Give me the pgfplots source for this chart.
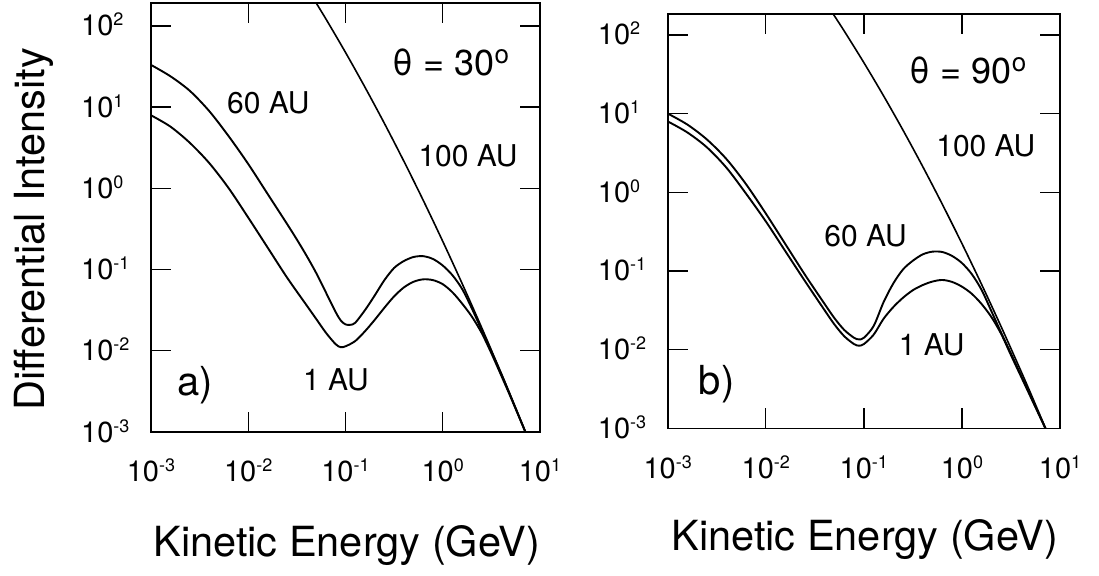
\documentclass[border=0pt]{standalone}
\usepackage{fontspec}
\setmainfont{TeX Gyre Heros}
\usepackage{pgfplots}
\pgfplotsset{compat=1.18}

% power-of-ten tick labels: "10" with a small raised exponent, in the text font
\newcommand\tickfont{\fontsize{29}{29}\selectfont}
\newcommand\pw[1]{\mbox{\tickfont 10\raisebox{10pt}{\fontsize{18}{18}\selectfont #1}}}
\newcommand\dego{\raisebox{12pt}{\fontsize{26}{26}\selectfont o}}
\newcommand\labfont{\fontsize{41.5}{42}\selectfont}
\newcommand\annfont{\fontsize{30}{30}\selectfont}

\tikzset{
  ann/.style={anchor=base, inner sep=0pt, font=\annfont},
  big/.style={anchor=base, inner sep=0pt, font=\fontsize{36}{36}\selectfont},
  tag/.style={anchor=base, inner sep=0pt, font=\fontsize{40}{40}\selectfont},
}

\pgfplotsset{
  panel/.style={
    scale only axis, anchor=south west,
    xmin=1e-3, xmax=10, ymin=1e-3,
    xtick={1e-3,1e-2,1e-1,1,10},
    xticklabels={\pw{-3},\pw{-2},\pw{-1},\pw{0},\pw{1}},
    ytick={1e-3,1e-2,1e-1,1,10,100},
    yticklabels={\pw{-3},\pw{-2},\pw{-1},\pw{0},\pw{1},\pw{2}},
    xminorticks=false, yminorticks=false,
    xtick pos=both, ytick pos=both, tick align=inside,
    major tick length=20pt,
    axis line style={line width=1.6pt, black},
    every tick/.style={line width=1.4pt, black},
    tick label style={inner sep=0pt, font=\tickfont},
    yticklabel style={anchor=base west, xshift=-70pt, yshift=-10pt},
    label style={font=\labfont, inner sep=0pt},
    xlabel={Kinetic Energy (GeV)},
  },
  curve/.style={black, line width=1.9pt, smooth},
  lis/.style={black, line width=1.6pt, smooth},
}

\begin{document}
\begin{tikzpicture}
\useasboundingbox (0,0) rectangle (1099pt,575pt);

% ---------------- a) theta = 30 deg ----------------
\begin{loglogaxis}[panel,
  at={(151pt,143pt)}, width=389pt, height=428.7pt, ymax=190,
  xticklabel style={anchor=base, yshift=-49pt},
  ylabel={Differential Intensity},
  xlabel style={at={(axis description cs:0.504,-0.291)}, anchor=base},
  ylabel style={at={(axis description cs:-0.275,0.4735)}, anchor=base},
]
% 100 AU
\addplot[lis] table {
0.04467 238.2
0.0631  121.1
0.1     47.21
0.1585  17.62
0.2512  6.310
0.3981  2.163
0.631   0.7096
1.0     0.2228
1.585   0.06699
2.512   0.01932
3.981   0.005333
5.012   0.002754
7.079   0.001
7.943   0.000713
};
% 60 AU
\addplot[curve] table {
0.001    33.11
0.001585 23.99
0.002512 15.85
0.003981 8.913
0.00631  4.365
0.01     1.995
0.01585  0.8511
0.02512  0.3631
0.03162  0.2344
0.03981  0.1479
0.05012  0.09016
0.0631   0.05188
0.07943  0.02985
0.08913  0.02371
0.1      0.02113
0.1122   0.02089
0.1259   0.02213
0.1585   0.03162
0.1995   0.04786
0.2512   0.07413
0.3162   0.1047
0.3981   0.1274
0.5012   0.1429
0.631    0.1462
0.7943   0.1349
1.0      0.1122
1.259    0.08511
1.585    0.05754
1.995    0.03311
2.512    0.01799
3.162    0.009772
3.981    0.005248
5.012    0.002723
7.079    0.001
7.943    0.000708
};
% 1 AU
\addplot[curve] table {
0.001    7.943
0.001585 5.754
0.002512 3.631
0.003981 2.042
0.00631  1.0
0.01     0.4365
0.01585  0.1862
0.02512  0.07943
0.03981  0.03631
0.05012  0.02455
0.0631   0.0166
0.07943  0.01202
0.08913  0.01109
0.1      0.01135
0.1259   0.01318
0.1585   0.01738
0.1995   0.02399
0.2512   0.03388
0.3162   0.04677
0.3981   0.06026
0.5012   0.07079
0.631    0.07586
0.7943   0.07413
1.0      0.06607
1.259    0.05248
1.585    0.03802
1.995    0.0263
2.512    0.0166
3.162    0.009333
3.981    0.005012
5.012    0.002661
7.079    0.001
7.943    0.000708
};
\node[big] at (axis description cs:0.771,0.832) {θ = 30\dego};
\node[ann] at (axis description cs:0.3016,0.7421) {60 AU};
\node[ann] at (axis description cs:0.815,0.6184) {100 AU};
\node[ann] at (axis description cs:0.4756,0.0979) {1 AU};
\node[tag] at (axis description cs:0.1131,0.0862) {a)};
\end{loglogaxis}

% ---------------- b) theta = 90 deg ----------------
\begin{loglogaxis}[panel,
  at={(667.7pt,146.7pt)}, width=392.3pt, height=414.3pt, ymax=184,
  xticklabel style={anchor=base, yshift=-50pt},
  xlabel style={at={(axis description cs:0.503,-0.294)}, anchor=base},
]
% 100 AU
\addplot[lis] table {
0.04467 216.8
0.0631  111.7
0.1     44.36
0.1585  16.87
0.2512  6.124
0.3981  2.123
0.631   0.7031
1.0     0.2228
1.585   0.06761
2.512   0.01954
3.981   0.005408
5.012   0.002799
7.079   0.001019
7.943   0.000723
};
% 60 AU
\addplot[curve] table {
0.001    10.0
0.001585 7.244
0.002512 4.677
0.003981 2.630
0.00631  1.259
0.01     0.537
0.01585  0.2188
0.02512  0.08913
0.03981  0.03802
0.05012  0.02512
0.0631   0.01778
0.07943  0.01413
0.08913  0.01349
0.1      0.01413
0.1259   0.01995
0.1585   0.03981
0.1995   0.06918
0.2512   0.1047
0.3162   0.1349
0.3981   0.1622
0.5012   0.1758
0.631    0.1738
0.7943   0.1549
1.0      0.1259
1.259    0.0912
1.585    0.05754
1.995    0.0309
2.512    0.01641
3.162    0.008913
3.981    0.004786
5.012    0.00257
7.079    0.001012
7.943    0.000724
};
% 1 AU
\addplot[curve] table {
0.001    7.943
0.001585 5.754
0.002512 3.715
0.003981 2.042
0.00631  0.955
0.01     0.4266
0.01585  0.1778
0.02512  0.07413
0.03981  0.03162
0.05012  0.02089
0.0631   0.01479
0.07943  0.01175
0.08913  0.01122
0.1      0.01175
0.1259   0.01549
0.1585   0.02455
0.1995   0.03467
0.2512   0.04571
0.3162   0.05689
0.3981   0.06607
0.5012   0.07328
0.631    0.07674
0.7943   0.07244
1.0      0.0631
1.259    0.05129
1.585    0.03802
1.995    0.026
2.512    0.01585
3.162    0.008511
3.981    0.004624
5.012    0.002512
7.079    0.001
7.943    0.000708
};
\node[big] at (axis description cs:0.7655,0.8327) {θ = 90\dego};
\node[ann] at (axis description cs:0.8109,0.6556) {100 AU};
\node[ann] at (axis description cs:0.5042,0.44) {60 AU};
\node[ann] at (axis description cs:0.673,0.1769) {1 AU};
\node[tag] at (axis description cs:0.1249,0.0804) {b)};
\end{loglogaxis}
\end{tikzpicture}
\end{document}
